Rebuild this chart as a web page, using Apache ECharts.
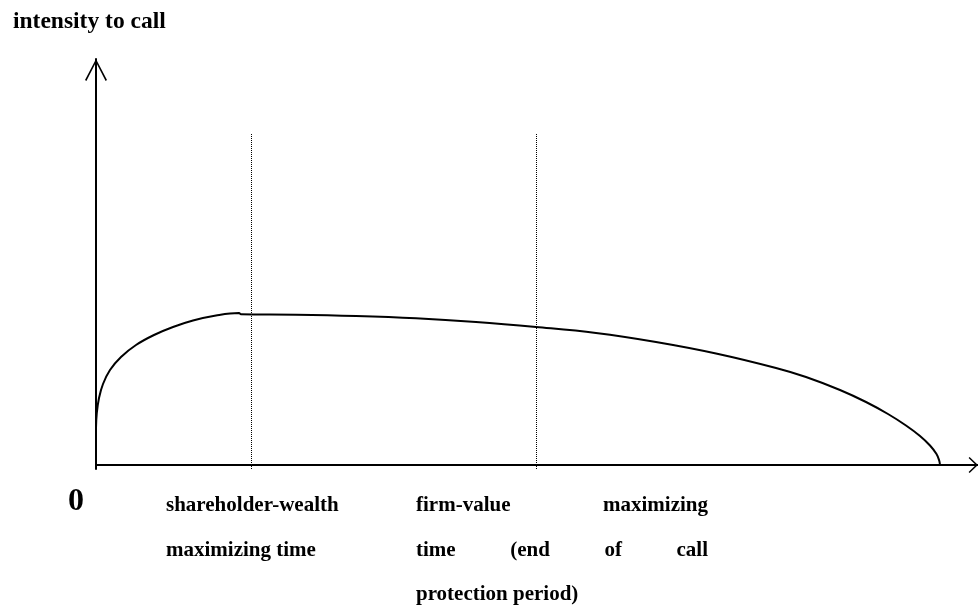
<!DOCTYPE html>
<html><head><meta charset="utf-8">
<script src="https://cdn.jsdelivr.net/npm/echarts@6/dist/echarts.min.js"></script>
<style>html,body{margin:0;padding:0;background:#fff}#c{width:978px;height:611px}</style>
</head><body><div id="c"></div>
<script>
// ---- data (x: time axis units, y: intensity units) ----
const curveX = [0, 0.8, 3, 7, 14, 25, 40, 58, 77, 97, 120, 143, 145, 200, 260, 320, 380, 440, 500, 560, 620, 680, 710, 744, 770, 792, 810, 824, 834, 840.5, 843.2, 844];
const curveY = [37, 52, 67, 81, 95, 108, 120, 130, 138, 144.5, 149.5, 152, 150.7, 150.3, 149, 146.7, 143, 138, 132, 123, 111.5, 97, 88, 75, 63, 51, 39.5, 29, 19.5, 11, 4.5, 0];
const markerX = [155.5, 440.5];
const markerTop = 332;
const yTitle = 'intensity to call';
const originLabel = '0';
const leftLabelLines = ['shareholder-wealth', 'maximizing time'];
const rightLabelLines = ['firm-value maximizing', 'time (end of call', 'protection period)'];

// ---- layout ----
const FONT = '"Liberation Serif", "Times New Roman", serif';
const labelSize = 21, titleSize = 23.5, zeroSize = 32;
const baseAdj = s => 0.305 * s; // middle -> baseline offset for Liberation Serif
const lineBaselines = [512, 557, 601];
const leftX = 166, rightL = 416, rightR = 708;

const ctx = document.createElement('canvas').getContext('2d');
function measure(t, size) { ctx.font = 'bold ' + size + 'px ' + FONT; return ctx.measureText(t).width; }
function txt(t, x, baseline, size) {
  return { type: 'text', silent: true, style: { text: t, x: x, y: baseline - baseAdj(size), font: 'bold ' + size + 'px ' + FONT, fill: '#000', align: 'left', verticalAlign: 'middle' } };
}
const graphics = [];
graphics.push(txt(yTitle, 13, 29, titleSize));
graphics.push(txt(originLabel, 68, 511, zeroSize));
leftLabelLines.forEach((l, i) => graphics.push(txt(l, leftX, lineBaselines[i], labelSize)));
rightLabelLines.forEach((l, i) => {
  const words = l.split(' ');
  if (i === rightLabelLines.length - 1 || words.length < 2) { graphics.push(txt(l, rightL, lineBaselines[i], labelSize)); return; }
  const ws = words.map(w => measure(w, labelSize));
  const gap = (rightR - rightL - ws.reduce((a, b) => a + b, 0)) / (words.length - 1);
  let x = rightL;
  words.forEach((w, k) => { graphics.push(txt(w, x, lineBaselines[i], labelSize)); x += ws[k] + gap; });
});

const yArrow = 'path://M11 0 L22 21 L20.6 22 L11 3.2 L1.4 22 L0 21 Z';
const xArrow = 'path://M8 0 L16 8.4 L15 9.4 L8 2.2 L1 9.4 L0 8.4 Z';

const chart = echarts.init(document.getElementById('c'), null, { renderer: 'canvas' });
chart.setOption({
  animation: false,
  backgroundColor: '#fff',
  grid: { left: 96, right: 0, top: 59, bottom: 142, containLabel: false },
  xAxis: {
    type: 'value', min: 0, max: 882,
    axisLine: { onZero: true, lineStyle: { color: '#000', width: 2 }, symbol: ['none', xArrow], symbolSize: [16, 9.4], symbolOffset: [0, -4.7] },
    axisTick: { show: false }, axisLabel: { show: false }, splitLine: { show: false }
  },
  yAxis: {
    type: 'value', min: -4, max: 406,
    axisLine: { onZero: true, lineStyle: { color: '#000', width: 2 }, symbol: ['none', yArrow], symbolSize: [22, 22], symbolOffset: [0, -11] },
    axisTick: { show: false }, axisLabel: { show: false }, splitLine: { show: false }
  },
  series: [{
    type: 'line',
    data: curveX.map((x, i) => [x, curveY[i]]),
    showSymbol: false, symbol: 'none', smooth: 0.4, silent: true,
    lineStyle: { color: '#000', width: 2 },
    markLine: {
      silent: true, symbol: 'none', label: { show: false },
      lineStyle: { color: '#000', width: 1, type: [1, 1] },
      data: markerX.map(x => [{ coord: [x, -4] }, { coord: [x, markerTop] }])
    }
  }],
  graphic: graphics
});
</script>
</body></html>
